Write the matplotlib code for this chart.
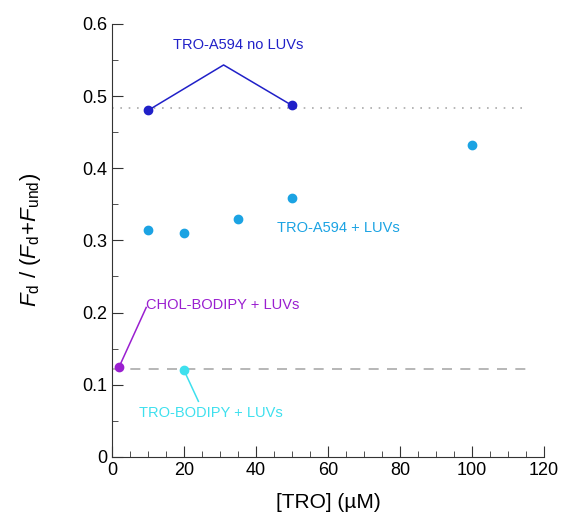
import matplotlib
matplotlib.use("Agg")
from matplotlib import pyplot as plt
from matplotlib.ticker import MultipleLocator, FuncFormatter

plt.rcParams['font.family'] = ['Liberation Sans', 'DejaVu Sans']
plt.rcParams['mathtext.fontset'] = 'custom'
plt.rcParams['mathtext.rm'] = 'Liberation Sans'
plt.rcParams['mathtext.it'] = 'Liberation Sans:italic'

# [TRO] (uM) and Fd/(Fd+Fund)
tro_a594_noluv_x = [10, 50]
tro_a594_noluv_y = [0.480, 0.487]
tro_a594_luv_x = [10, 20, 35, 50, 100]
tro_a594_luv_y = [0.314, 0.310, 0.329, 0.358, 0.432]
chol_bodipy_x = [2]
chol_bodipy_y = [0.125]
tro_bodipy_x = [20]
tro_bodipy_y = [0.120]
noluv_ref = 0.483
bodipy_ref = 0.122

c_noluv = '#2020c8'
c_luv = '#1ba3e3'
c_chol = '#9a1fd0'
c_trob = '#3ee0ee'

fig = plt.figure(figsize=(5.63, 5.18), dpi=100)
ax = fig.add_axes([0.199, 0.118, 0.767, 0.836])

ax.plot([0, 115], [noluv_ref, noluv_ref], color='#aaaaaa', lw=1.2, ls=(0, (1, 4)))
ax.plot([0, 115], [bodipy_ref, bodipy_ref], color='#aaaaaa', lw=1.2, ls=(0, (6, 5)))

ax.plot(tro_a594_noluv_x, tro_a594_noluv_y, 'o', color=c_noluv, ms=6, clip_on=False)
ax.plot(tro_a594_luv_x, tro_a594_luv_y, 'o', color=c_luv, ms=6, clip_on=False)
ax.plot(chol_bodipy_x, chol_bodipy_y, 'o', color=c_chol, ms=6, clip_on=False)
ax.plot(tro_bodipy_x, tro_bodipy_y, 'o', color=c_trob, ms=6, clip_on=False)

# callout lines
ax.plot([tro_a594_noluv_x[0], 31, tro_a594_noluv_x[1]],
        [tro_a594_noluv_y[0], 0.543, tro_a594_noluv_y[1]], color=c_noluv, lw=1.1)
ax.plot([chol_bodipy_x[0], 9.5], [chol_bodipy_y[0], 0.207], color=c_chol, lw=1.1)
ax.plot([tro_bodipy_x[0], 24], [tro_bodipy_y[0], 0.077], color=c_trob, lw=1.1)

ax.text(35, 0.571, 'TRO-A594 no LUVs', color=c_noluv, fontsize=10.5, ha='center', va='center')
ax.text(63, 0.317, 'TRO-A594 + LUVs', color=c_luv, fontsize=10.5, ha='center', va='center')
ax.text(9.3, 0.210, 'CHOL-BODIPY + LUVs', color=c_chol, fontsize=10.5, ha='left', va='center')
ax.text(27.5, 0.061, 'TRO-BODIPY + LUVs', color=c_trob, fontsize=10.5, ha='center', va='center')

ax.set_xlim(0, 120)
ax.set_ylim(0, 0.6)
ax.xaxis.set_major_locator(MultipleLocator(20))
ax.xaxis.set_minor_locator(MultipleLocator(5))
ax.yaxis.set_major_locator(MultipleLocator(0.1))
ax.yaxis.set_minor_locator(MultipleLocator(0.05))
ax.yaxis.set_major_formatter(FuncFormatter(lambda v, p: '0' if abs(v) < 1e-9 else '%.1f' % v))
ax.tick_params(which='both', direction='in', labelsize=13, color='#333333')
ax.tick_params(which='major', length=8)
ax.tick_params(which='minor', length=4)
ax.spines['top'].set_visible(False)
ax.spines['right'].set_visible(False)
for s in ['left', 'bottom']:
    ax.spines[s].set_color('#333333')

ax.set_xlabel('[TRO] (µM)', fontsize=15, labelpad=10)
ax.set_ylabel(r'$F_{\rm d}\ /\ (F_{\rm d}\!+\!F_{\rm und})$', fontsize=16, labelpad=28)

fig.savefig('out.png', dpi=100)
